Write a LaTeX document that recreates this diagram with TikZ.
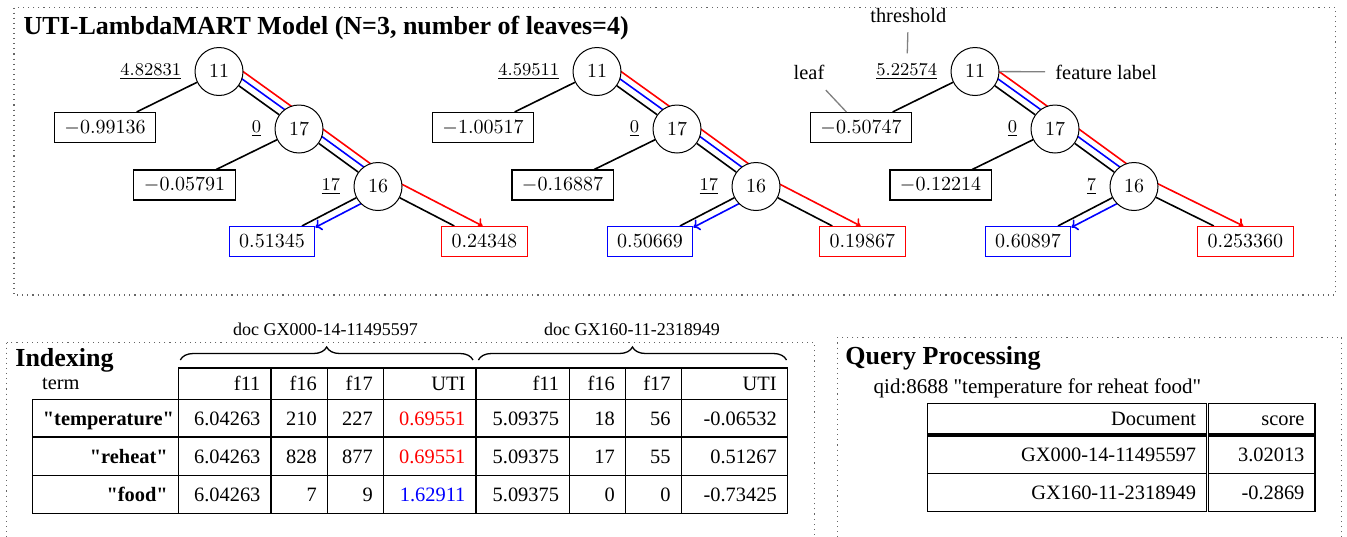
\documentclass[tikz,border=0pt]{standalone}
\usepackage[no-math]{fontspec}
\setmainfont{Liberation Serif}[Ligatures=TeXOff]
\usetikzlibrary{calc,arrows.meta,decorations.pathreplacing}
\pgfdeclarelayer{background}
\pgfsetlayers{background,main}

\newcommand\txtnormal{\fontsize{10.2}{12}\selectfont}
\newcommand\txtsmall{\fontsize{9}{11}\selectfont}
\newcommand\txthead{\fontsize{13}{15}\selectfont\bfseries}

\tikzset{
  feat/.style={circle,draw,line width=0.5pt,fill=white,minimum size=24pt,inner sep=0pt,font=\txtnormal},
  leafbox/.style={draw,line width=0.55pt,fill=white,minimum height=15pt,inner xsep=5pt,inner ysep=0pt,font=\txtnormal},
  thr/.style={inner sep=0pt,font=\txtsmall},
  blackedge/.style={line width=0.8pt},
  bluepath/.style={draw=blue,line width=0.8pt,line join=round},
  redpath/.style={draw=red,line width=0.8pt,line join=round},
  arrowend/.style={-{To[length=3pt,width=6pt]}},
  annot/.style={inner sep=0pt,font=\txtnormal},
  note/.style={draw=black!50,line width=0.65pt},
  dotbox/.style={draw=black!60,dotted,line width=0.55pt},
  tcell/.style={draw,line width=0.6pt,outer sep=0pt,inner xsep=5.3pt,inner ysep=0pt,
    align=right,text height=6.9pt,text depth=0pt,font=\txtnormal},
  heading/.style={inner sep=0pt,anchor=base west,font=\txthead},
  docbrace/.style={decorate,decoration={brace,amplitude=6.5pt},line width=0.65pt},
}

% one regression tree: prefix, x offset, three thresholds, four leaf values
\newcommand\drawtree[9]{%
  \begin{scope}[shift={(#2,0)}]
    \node[feat] (#1n11) at (219,71.5) {$11$};
    \node[feat] (#1n17) at (299,129) {$17$};
    \node[feat] (#1n16) at (378,186.5) {$16$};
    \node[leafbox] (#1la) at (105,127.5) {$#6$};
    \node[leafbox] (#1lb) at (184.5,185) {$#7$};
    \node[leafbox,draw=blue] (#1lbl) at (272,241.5) {$#8$};
    \node[leafbox,draw=red,anchor=west] (#1lrd) at (441,241.5) {$#9$};
  \end{scope}
  \node[thr,anchor=east] (#1t11) at ([xshift=-6.5pt]#1n11.west) {$\underline{#3}$};
  \node[thr,anchor=east] (#1t17) at ([xshift=-6.5pt]#1n17.west) {$\underline{#4}$};
  \node[thr,anchor=east] (#1t16) at ([xshift=-6.5pt]#1n16.west) {$\underline{#5}$};
  \begin{pgfonlayer}{background}
    \draw[blackedge] (#1n11) -- (#1la) (#1n11) -- (#1n17) (#1n17) -- (#1lb)
      (#1n17) -- (#1n16) (#1n16) -- (#1lbl) (#1n16) -- (#1lrd);
    % blue route, offset beside the black edges
    \coordinate (#1b1) at ($(#1n11.center)!3.7pt!90:(#1n17.center)$);
    \coordinate (#1b2) at ($(#1n17.center)!3.7pt!-90:(#1n11.center)$);
    \coordinate (#1b3) at ($(#1n17.center)!3.7pt!90:(#1n16.center)$);
    \coordinate (#1b4) at ($(#1n16.center)!3.7pt!-90:(#1n17.center)$);
    \coordinate (#1b5) at ($(#1n16.center)!3.7pt!90:(#1lbl.center)$);
    \coordinate (#1b6) at ($(#1lbl.center)!3.7pt!-90:(#1n16.center)$);
    \draw[bluepath] (#1b1) -- (#1b2) -- (#1b3) -- (#1b4) -- (#1b5);
    \draw[bluepath,arrowend] (#1b5) -- (intersection of #1b5--#1b6 and #1lbl.north east--#1lbl.south east);
    % red route, further out
    \coordinate (#1r1) at ($(#1n11.center)!7pt!90:(#1n17.center)$);
    \coordinate (#1r2) at ($(#1n17.center)!7pt!-90:(#1n11.center)$);
    \coordinate (#1r3) at ($(#1n17.center)!7pt!90:(#1n16.center)$);
    \coordinate (#1r4) at ($(#1n16.center)!7pt!-90:(#1n17.center)$);
    \coordinate (#1r5) at ($(#1n16.center)!6.5pt!90:(#1lrd.center)$);
    \coordinate (#1r6) at ($(#1lrd.center)!6.5pt!-90:(#1n16.center)$);
    \draw[redpath] (#1r1) -- (#1r2) -- (#1r3) -- (#1r4) -- (#1r5);
    \draw[redpath,arrowend] (#1r5) -- (intersection of #1r5--#1r6 and #1lrd.north west--#1lrd.north east);
  \end{pgfonlayer}
}

% table cell: [style] name, x1, y1, x2, y2, text
\newcommand\tcell[7][]{%
  \pgfmathsetmacro\cellw{(#5-#3)*0.5}%
  \pgfmathsetmacro\cellh{(#6-#4)*0.5}%
  \pgfmathsetmacro\cellt{\cellw-10.6}%
  \node[tcell,#1,minimum width=\cellw pt,minimum height=\cellh pt,text width=\cellt pt]
    (#2) at ({(#3+#5)/2},{(#4+#6)/2}) {#7};}

\def\colx{{178.3,271,327.3,383.3,476,569.6,625.4,681.2,787.3}}
\newcommand\trow[4]{%
  \foreach \v [count=\i from 0] in {#4}{%
    \pgfmathsetmacro\xa{\colx[\i]}%
    \pgfmathsetmacro\xb{\colx[\i+1]}%
    \tcell{#1\i}{\xa}{#2}{\xb}{#3}{\v}}}

\begin{document}
\begin{tikzpicture}[x=0.5pt,y=-0.5pt]
\useasboundingbox (0,0) rectangle (1347,536);

% panels
\draw[dotbox] (14,7.5) rectangle (1335.5,295);
\draw[dotbox] (6.5,342.5) rectangle (814.5,560);
\draw[dotbox] (837.3,337.3) rectangle (1341.7,560);

% model
\node[heading] (title) at (23.3,34.3) {UTI-LambdaMART Model (N=3, number of leaves=4)};
\drawtree{a}{0}{4.82831}{0}{17}{-0.99136}{-0.05791}{0.51345}{0.24348}
\drawtree{b}{378}{4.59511}{0}{17}{-1.00517}{-0.16887}{0.50669}{0.19867}
\drawtree{c}{756}{5.22574}{0}{7}{-0.50747}{-0.12214}{0.60897}{0.253360}

% legend on the third tree
\node[annot,anchor=base] (thrtxt) at (908.3,22.7) {threshold};
\node[annot,anchor=base west] (leaftxt) at (793.3,79.3) {leaf};
\node[annot,anchor=base west] (feattxt) at (1055,79) {feature label};
\draw[note,shorten <=4.5pt,shorten >=5pt] (thrtxt) -- (ct11);
\draw[note,shorten <=7pt] (leaftxt) -- (cla);
\draw[note,shorten >=5pt] (cn11) -- (feattxt);

% indexing
\node[heading] (idxhead) at (15,366) {Indexing};
\node[annot,anchor=base west] (termlbl) at (41.7,389.3) {term};
\trow{hd}{368}{399.3}{f11,f16,f17,UTI,f11,f16,f17,UTI}
\trow{ra}{399.3}{437}{6.04263,210,227,{\color{red}0.69551},5.09375,18,56,-0.06532}
\trow{rb}{437}{475.3}{6.04263,828,877,{\color{red}0.69551},5.09375,17,55,0.51267}
\trow{rc}{475.3}{513.3}{6.04263,7,9,{\color{blue}1.62911},5.09375,0,0,-0.73425}
\tcell[font=\txtnormal\bfseries]{tla}{32.3}{399.3}{178.3}{437}{"temperature"}
\tcell[font=\txtnormal\bfseries]{tlb}{32.3}{437}{178.3}{475.3}{"reheat"}
\tcell[font=\txtnormal\bfseries]{tlc}{32.3}{475.3}{178.3}{513.3}{"food"}
\draw[docbrace] ([xshift=1pt,yshift=4pt]hd0.north west) -- ([xshift=-1.5pt,yshift=4pt]hd3.north east);
\draw[docbrace] ([xshift=1.2pt,yshift=4pt]hd4.north west) -- ([xshift=-0.4pt,yshift=4pt]hd7.north east);
\node[inner sep=0pt,anchor=base,font=\txtsmall] (docA) at (325.5,335.5) {doc GX000-14-11495597};
\node[inner sep=0pt,anchor=base,font=\txtsmall] (docB) at (632,335.5) {doc GX160-11-2318949};

% query processing
\node[heading] (qphead) at (845,364.5) {Query Processing};
\node[inner sep=0pt,anchor=base west,font=\fontsize{10.5}{12}\selectfont] (qid) at (873.3,393.3) {qid:8688 "temperature for reheat food"};
\tcell{qh1}{927.7}{403.3}{1206.7}{434}{Document}
\tcell{qh2}{1208.3}{403.3}{1315}{434}{score}
\tcell{qa1}{927.7}{436}{1206.7}{473.5}{GX000-14-11495597}
\tcell{qa2}{1208.3}{436}{1315}{473.5}{3.02013}
\tcell{qb1}{927.7}{473.5}{1206.7}{511.7}{GX160-11-2318949}
\tcell{qb2}{1208.3}{473.5}{1315}{511.7}{-0.2869}
\end{tikzpicture}
\end{document}
